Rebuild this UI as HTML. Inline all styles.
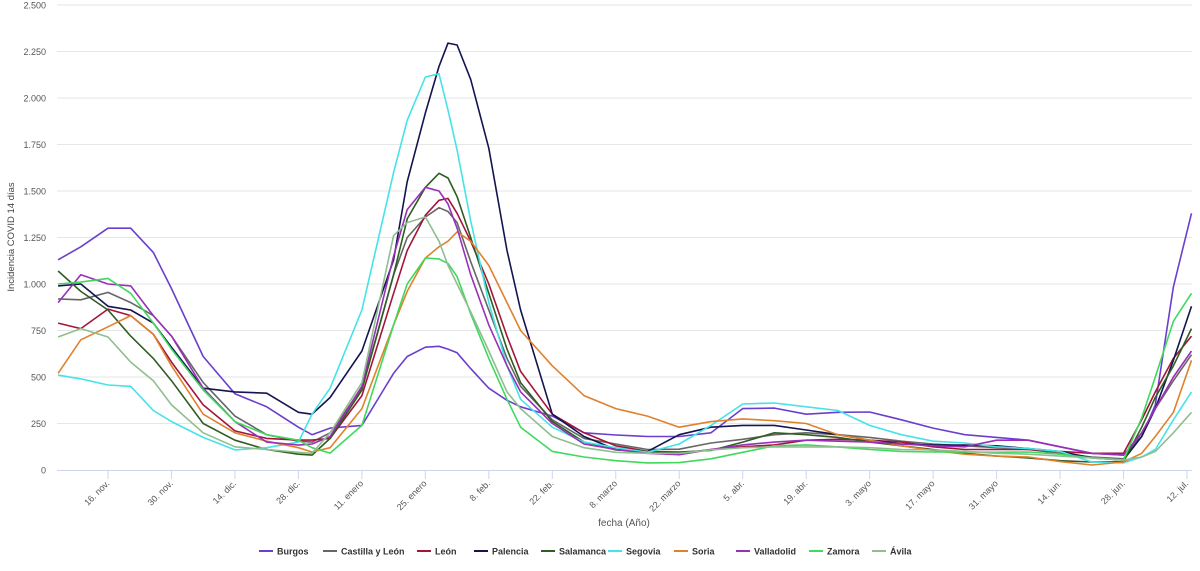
<!DOCTYPE html>
<html><head><meta charset="utf-8"><style>
body{margin:0;background:#fff;font-family:"Liberation Sans",sans-serif}
svg text{font-family:"Liberation Sans",sans-serif}
</style></head><body>
<svg id="chart" width="1200" height="566" xmlns="http://www.w3.org/2000/svg">
<g id="grid"></g>
<g id="yax"></g>
<g id="xax"></g>
<text transform="translate(14,237) rotate(-90)" text-anchor="middle" font-size="9.5" fill="#444">Incidencia COVID 14 días</text>
<text x="624" y="526" text-anchor="middle" font-size="10" fill="#555">fecha (Año)</text>
<g id="series"></g>
<g id="legend"></g>
</svg>
<script>
const days=[-11,-6,0,5,10,14,21,28,35,42,45,49,56,63,66,70,73,75,77,80,84,88,91,98,105,112,119,126,133,140,147,154,161,168,175,182,189,196,203,210,217,224,228,231,235,239];
const tickDays=[0,14,28,42,56,70,84,98,112,126,140,154,168,182,196,210,224,238];
const tickLabels=["16. nov.","30. nov.","14. dic.","28. dic.","11. enero","25. enero","8. feb.","22. feb.","8. marzo","22. marzo","5. abr.","19. abr.","3. mayo","17. mayo","31. mayo","14. jun.","28. jun.","12. jul."];
const yTicks=[0,250,500,750,1000,1250,1500,1750,2000,2250,2500];
const yTickLabels=["0","250","500","750","1.000","1.250","1.500","1.750","2.000","2.250","2.500"];
const names=["Burgos","Castilla y León","León","Palencia","Salamanca","Segovia","Soria","Valladolid","Zamora","Ávila"];
const colors=["#6a3fcf","#666666","#a3163a","#14144f","#2f5d22","#45e3e8","#e0812e","#9a2fb8","#3fd95e","#8fbe8f"];
const burgos=[1130,1200,1300,1300,1170,975,610,410,340,230,190,225,240,520,610,660,665,650,630,545,440,375,340,290,200,188,180,180,200,330,333,300,310,312,270,225,190,175,160,125,90,80,180,350,985,1380];
const castilla=[920,915,955,900,830,720,470,290,190,155,150,200,440,1050,1250,1360,1410,1390,1330,1120,860,600,450,270,170,140,110,112,145,165,190,200,190,175,155,140,130,120,110,90,70,60,200,330,480,620];
const leon=[790,760,865,830,730,580,350,210,170,161,161,170,400,950,1180,1370,1450,1460,1380,1230,1000,720,530,300,200,130,100,90,110,125,135,160,165,160,150,125,110,110,110,100,90,90,270,420,600,720];
const palencia=[990,1000,880,860,790,660,440,420,413,310,300,390,640,1130,1550,1920,2170,2295,2285,2100,1730,1180,860,300,180,110,100,190,230,240,240,215,190,160,140,134,134,130,115,100,65,54,180,330,590,880];
const salamanca=[1070,960,860,720,600,480,250,160,110,85,80,170,430,1050,1350,1520,1595,1570,1470,1250,950,650,470,260,150,108,100,97,105,150,200,190,175,150,130,110,90,75,65,50,43,45,230,390,560,760];
const segovia=[510,490,457,450,320,260,175,108,120,150,300,440,860,1600,1880,2113,2130,1935,1720,1340,900,560,380,230,150,120,95,140,240,355,360,340,320,240,190,155,145,125,115,100,43,38,70,110,270,420];
const soria=[520,700,770,830,730,560,300,200,155,120,97,120,330,780,960,1140,1200,1230,1280,1230,1100,900,750,560,400,330,290,230,260,275,265,250,190,160,130,105,85,75,70,45,27,43,90,180,310,590];
const valladolid=[900,1050,1000,990,830,720,440,260,150,134,140,180,450,1150,1400,1520,1500,1430,1300,1050,780,560,420,250,140,110,90,82,110,135,150,160,155,150,140,130,125,160,160,125,90,80,200,330,500,640];
const zamora=[1000,1010,1030,950,790,650,430,260,190,160,120,91,240,780,1000,1140,1135,1110,1040,840,600,380,230,100,70,50,38,40,60,95,130,135,124,110,100,97,97,95,97,85,65,54,280,500,800,950];
const avila=[715,760,715,580,480,350,200,125,110,95,90,200,470,1260,1330,1360,1230,1100,1000,850,640,420,330,180,120,95,90,90,108,120,124,124,124,120,110,108,100,90,85,75,65,54,70,100,200,310];
const seriesData=[burgos,castilla,leon,palencia,salamanca,segovia,soria,valladolid,zamora,avila];
const legendX=[266,330,424,481,548,615,681,743,816,879];

const NS="http://www.w3.org/2000/svg";
const X0=57,X1=1192,Y0=470,Y1=5;
const xs=d=>108+(d)*(1187-108)/238;
const ys=v=>Y0-(v/2500)*(Y0-Y1);
function mk(tag,attrs,parent){const e=document.createElementNS(NS,tag);for(const k in attrs)e.setAttribute(k,attrs[k]);parent.appendChild(e);return e;}
const grid=document.getElementById('grid'),yax=document.getElementById('yax'),xax=document.getElementById('xax'),ser=document.getElementById('series'),leg=document.getElementById('legend');
yTicks.forEach((v,i)=>{
  if(v>0){const g=mk('line',{x1:X0,x2:X1,y1:ys(v),y2:ys(v),stroke:'#e6e6e6','stroke-width':1},grid);
  
  }
  const t=mk('text',{x:46,y:ys(v)+3.5,'text-anchor':'end','font-size':9,fill:'#555'},yax);
  t.textContent=yTickLabels[i];
  
  
});
const axl=mk('line',{x1:X0,x2:X1,y1:Y0+0.5,y2:Y0+0.5,stroke:'#ccd6eb','stroke-width':1},xax);


tickDays.forEach((d,i)=>{
  const x=xs(d);
  const tk=mk('line',{x1:x,x2:x,y1:Y0,y2:Y0+9,stroke:'#ccd6eb'},xax);
  
  
  const t=mk('text',{x:x+2,y:Y0+14,'text-anchor':'end','font-size':9,fill:'#555',transform:`rotate(-45 ${x+2} ${Y0+14})`},xax);
  t.textContent=tickLabels[i];
  
  
});
seriesData.forEach((vals,s)=>{
  const pts=vals.map((v,i)=>xs(days[i]).toFixed(1)+','+ys(v).toFixed(1)).join(' ');
  const p=mk('polyline',{points:pts,fill:'none',stroke:colors[s],'stroke-width':1.6,'stroke-linejoin':'round'},ser);
  
  
  const g=mk('g',{},leg);
  
  
  mk('line',{x1:legendX[s]-7,x2:legendX[s]+7,y1:551,y2:551,stroke:colors[s],'stroke-width':2},g);
  const t=mk('text',{x:legendX[s]+11,y:554.5,'font-size':9,'font-weight':'bold',fill:'#333'},g);
  t.textContent=names[s];
});
</script>
</body></html>
